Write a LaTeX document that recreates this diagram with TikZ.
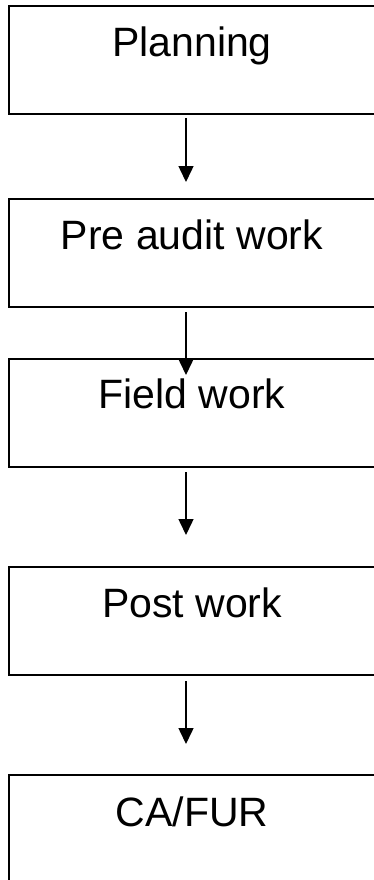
\documentclass[tikz,border=0pt]{standalone}
\usepackage{fontspec}
\setmainfont{Liberation Sans}
\usetikzlibrary{arrows.meta}
\begin{document}
\begin{tikzpicture}[x=1pt,y=-1pt,
  stage/.style={draw=black,line width=2pt,rectangle,minimum width=368pt,minimum height=108pt,anchor=north west,inner sep=0pt},
  lbl/.style={anchor=base,inner sep=0pt,font=\fontsize{41}{49}\selectfont},
  arr/.style={line width=1.5pt,-{Triangle[width=15pt,length=16pt]}}]
\useasboundingbox (0,0) rectangle (374,880);
\fill[white] (0,0) rectangle (374,880);
\clip (0,0) rectangle (374,880);
\node[stage] (b1) at (8,5) {};
\node[stage] (b2) at (8,198) {};
\node[stage] (b3) at (8,358) {};
\node[stage] (b4) at (8,566) {};
\node[stage,minimum height=150pt] (b5) at (8,774) {};
\node[lbl] (t1) at (192,57) {Planning};
\node[lbl] (t2) at (192,249) {Pre audit work};
\node[lbl] (t3) at (192,408) {Field work};
\node[lbl] (t4) at (192,617) {Post work};
\node[lbl] (t5) at (192,826) {CA/FUR};
\draw[arr] ([xshift=-7pt,yshift=-3pt]b1.south) -- ([xshift=-7pt,yshift=-67pt]b1.south);
\draw[arr] ([xshift=-7pt,yshift=-4pt]b2.south) -- ([xshift=-7pt,yshift=-67pt]b2.south);
\draw[arr] ([xshift=-7pt,yshift=-4pt]b3.south) -- ([xshift=-7pt,yshift=-67pt]b3.south);
\draw[arr] ([xshift=-7pt,yshift=-5pt]b4.south) -- ([xshift=-7pt,yshift=-68pt]b4.south);
\end{tikzpicture}
\end{document}
